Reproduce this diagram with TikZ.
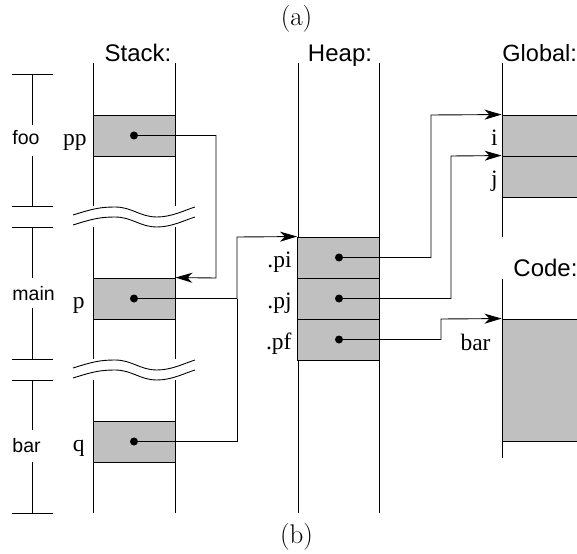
\documentclass[tikz,border=0pt]{standalone}
\usepackage{fontspec}
\newfontfamily\labelsans{Liberation Sans}
\newfontfamily\labelserif{Liberation Serif}
\usetikzlibrary{arrows.meta}
\definecolor{cellgray}{HTML}{C0C0C0}
\begin{document}
\begin{tikzpicture}[x=1pt,y=-1pt,
  line width=0.9pt,
  wall/.style={line width=0.9pt},
  cell/.style={draw, fill=cellgray, rectangle, inner sep=0pt, minimum width=82pt, minimum height=41pt},
  wide cell/.style={draw, fill=cellgray, rectangle, inner sep=0pt, minimum width=84pt},
  dot/.style={circle, fill=black, inner sep=0pt, minimum size=8pt},
  ptr/.style={-{Stealth[length=17pt,width=10pt,inset=5pt]}},
  colname/.style={inner sep=0pt, anchor=base, font=\labelsans\fontsize{24}{28}\selectfont},
  framename/.style={inner sep=0pt, anchor=base west, font=\labelsans\fontsize{19.5}{24}\selectfont},
  varname/.style={inner sep=0pt, anchor=base east, font=\labelserif\fontsize{23.5}{28}\selectfont},
  captext/.style={inner sep=0pt, anchor=base, font=\fontsize{27}{32}\selectfont},
  tick/.style={line width=0.9pt}]
\useasboundingbox (0,0) rectangle (577,553);

% captions
\node[captext] (capa) at (296.5,26) {(a)};
\node[captext] (capb) at (296.5,543) {(b)};

% column headings
\node[colname] (stackhd) at (138,62) {Stack:};
\node[colname] (heaphd) at (340,62) {Heap:};
\node[colname, anchor=base west, font=\labelsans\fontsize{23.5}{28}\selectfont] (globalhd) at (502,62) {Global:};
\node[colname, anchor=base west] (codehd) at (513,276) {Code:};

% stack frame ruler
\foreach \y in {74,206,227,359,380,513} \draw[tick] (12,\y) -- (53,\y);
\draw[tick] (32,74) -- (32,125) (32,156) -- (32,206);
\draw[tick] (32,227) -- (32,278) (32,308) -- (32,359);
\draw[tick] (32,380) -- (32,430) (32,462) -- (32,513);
\node[framename] (foo) at (12,145) {foo};
\node[framename] (main) at (12,300) {main};
\node[framename] (barfr) at (12,452) {bar};

% stack walls, broken where frames are elided
\foreach \x in {93,175} {
  \draw[wall] (\x,63) -- (\x,206) (\x,227) -- (\x,359) (\x,380) -- (\x,513);
}
% elision marks
\foreach \g in {206,359} {
  \foreach \d in {0,10} {
    \draw (73,\g+9+\d) .. controls (92,\g+3+\d) and (100,\g+1+\d) .. (115,\g+1+\d)
      .. controls (132,\g+1+\d) and (140,\g+11+\d) .. (157,\g+11+\d)
      .. controls (172,\g+11+\d) and (185,\g+4+\d) .. (195,\g+1+\d);
  }
}

% heap walls
\draw[wall] (298,63) -- (298,513) (379,63) -- (379,513);
% global and code walls
\draw[wall] (502,63) -- (502,237);
\draw[wall] (502,279) -- (502,458);

% stack cells
\node[cell] (ppcell) at (134,135.5) {};
\node[cell] (pcell) at (134,298.5) {};
\node[cell] (qcell) at (134,441.5) {};
\node[dot] (ppdot) at (134,135.5) {};
\node[dot] (pdot) at (134,298.5) {};
\node[dot] (qdot) at (134,441.5) {};
\node[varname] (pplbl) at (87,145.5) {pp};
\node[varname] (plbl) at (85,308.5) {p};
\node[varname] (qlbl) at (85,451.5) {q};

% heap cells
\node[cell] (picell) at (338.5,257.5) {};
\node[cell] (pjcell) at (338.5,298.5) {};
\node[cell] (pfcell) at (338.5,339.5) {};
\node[dot] (pidot) at (339,257.5) {};
\node[dot] (pjdot) at (339,298.5) {};
\node[dot] (pfdot) at (339,339.5) {};
\node[varname] (pilbl) at (292,267.5) {.pi};
\node[varname] (pjlbl) at (292,308.5) {.pj};
\node[varname] (pflbl) at (292,349.5) {.pf};

% globals
\node[wide cell, minimum height=41pt] (icell) at (544,135.5) {};
\node[wide cell, minimum height=41pt] (jcell) at (544,176.5) {};
\node[varname] (ilbl) at (498,145.5) {i};
\node[varname] (jlbl) at (498,186.5) {j};

% code
\node[wide cell, minimum height=122pt] (codecell) at (544,380) {};
\node[varname] (codelbl) at (491,350) {bar};

% bend points of the pointers
\coordinate (ppbend) at (216,278);
\coordinate (heapbend) at (237,237);
\coordinate (qjoin) at (237,298.5);
\coordinate (pibend) at (431,115);
\coordinate (pjbend) at (451,156);
\coordinate (pfbend) at (441,319);

% pointers
\draw[ptr] (ppdot.center) -| (ppbend) -- (pcell.north east);
\draw[ptr] (pdot.center) -| (heapbend) -- (picell.north west);
\draw (qdot.center) -| (qjoin);
\draw[ptr] (pidot.center) -| (pibend) -- (icell.north west);
\draw[ptr] (pjdot.center) -| (pjbend) -- (jcell.north west);
\draw[ptr] (pfdot.center) -| (pfbend) -- (codecell.north west);
\end{tikzpicture}
\end{document}
